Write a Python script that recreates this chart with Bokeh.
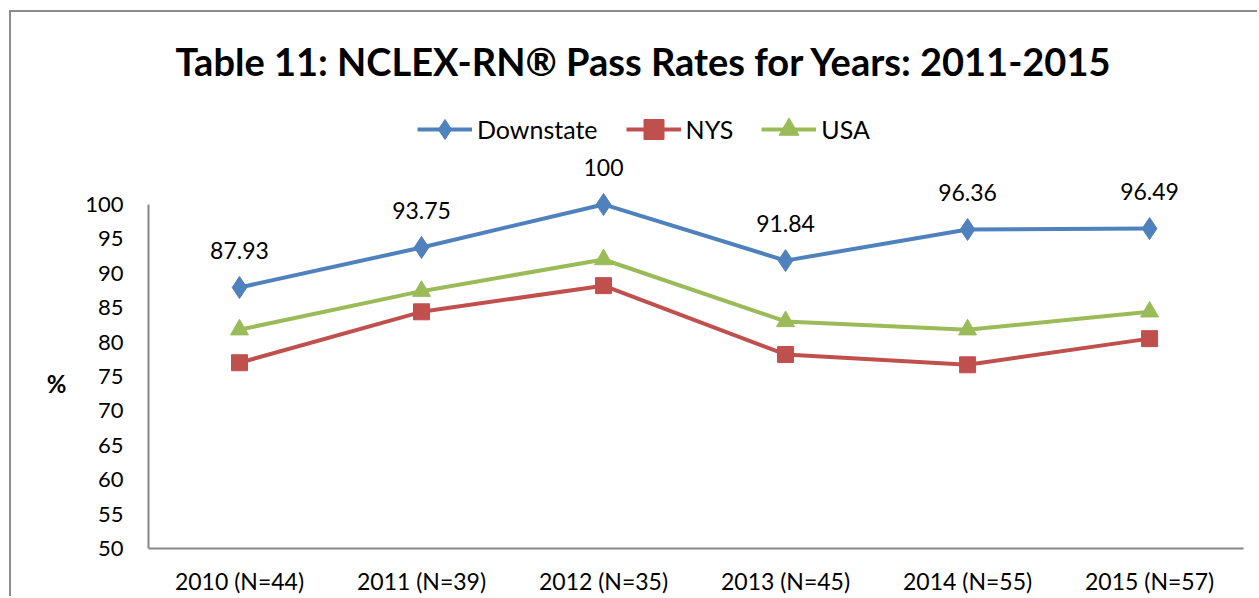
from bokeh.plotting import figure
from bokeh.models import (Range1d, FixedTicker, LabelSet, ColumnDataSource,
                          Legend, LegendItem, LinearAxis)
from bokeh.core.properties import value
from bokeh.embed import file_html
from bokeh.resources import INLINE

years = ["2010 (N=44)", "2011 (N=39)", "2012 (N=35)", "2013 (N=45)", "2014 (N=55)", "2015 (N=57)"]
downstate = [87.93, 93.75, 100, 91.84, 96.36, 96.49]
nys = [77.0, 84.4, 88.2, 78.2, 76.7, 80.5]
usa = [81.8, 87.4, 92.0, 83.0, 81.8, 84.4]
y_ticks = [50, 55, 60, 65, 70, 75, 80, 85, 90, 95, 100]
title_text = "Table 11: NCLEX-RN\u00ae Pass Rates for Years: 2011-2015"
y_label = "%"
y_label_pos = 74

FONT = "Lato"
xs = list(range(len(years)))

p = figure(width=1248, height=586, output_backend="svg", toolbar_location=None,
           x_range=Range1d(-0.5, 5.516), y_range=Range1d(50, 115.4),
           min_border_left=137, min_border_right=16, min_border_top=86,
           min_border_bottom=50, title=title_text)
p.styles = {"border-left": "2px solid #8c8c8c", "border-top": "2px solid #8c8c8c",
            "margin-left": "9px", "margin-top": "10px"}

p.title.text_font = FONT
p.title.text_font_size = "38px"
p.title.text_font_style = "bold"
p.title.align = "left"
p.title.offset = 27
p.title.standoff = 29
p.title.text_color = "black"

p.xgrid.visible = False
p.ygrid.visible = False
p.outline_line_color = None

for ax in (p.xaxis[0], p.yaxis[0]):
    ax.axis_line_color = "#868686"
    ax.axis_line_width = 2
    ax.major_tick_line_color = None
    ax.minor_tick_line_color = None
    ax.major_tick_out = 0
    ax.major_tick_in = 0
    ax.major_label_text_font = FONT
    ax.major_label_text_color = "black"

p.yaxis.ticker = FixedTicker(ticks=y_ticks)
p.yaxis.bounds = (50, 100)
p.yaxis.major_label_text_font_size = "22px"
p.yaxis.major_label_standoff = 25

p.xaxis.ticker = FixedTicker(ticks=xs)
p.xaxis.major_label_overrides = {i: years[i] for i in xs}
p.xaxis.major_label_text_font_size = "23px"
p.xaxis.major_label_standoff = 18

# outer axis carrying the horizontal "%" label
lab_axis = LinearAxis(ticker=FixedTicker(ticks=[y_label_pos]),
                      major_label_overrides={y_label_pos: y_label},
                      axis_line_color=None, major_tick_line_color=None,
                      minor_tick_line_color=None, major_tick_out=0, major_tick_in=0,
                      major_label_standoff=16, major_label_text_font=FONT,
                      major_label_text_font_size="24px",
                      major_label_text_font_style="bold",
                      major_label_text_color="black")
p.add_layout(lab_axis, "left")

series = [
    ("Downstate", downstate, "#4F81BD", "diamond", 22),
    ("NYS", nys, "#C0504D", "square", 16),
    ("USA", usa, "#9BBB59", "triangle", 18),
]

items = []
for name, vals, color, marker, size in series:
    src = ColumnDataSource(dict(x=xs, y=vals))
    l = p.line("x", "y", source=src, line_color=color, line_width=4)
    s = p.scatter("x", "y", source=src, marker=marker, size=size,
                  fill_color=color, line_color=color)
    items.append(LegendItem(label=name, renderers=[l, s]))

legend = Legend(items=items, orientation="horizontal", location=(269, 394),
                glyph_width=55, glyph_height=50, label_height=50,
                label_standoff=5, spacing=28, padding=0, margin=0,
                border_line_color=None, background_fill_alpha=0,
                label_text_font=FONT, label_text_font_size="25px",
                label_text_color="black")
p.add_layout(legend, "center")

lab_src = ColumnDataSource(dict(x=xs, y=downstate, t=[f"{v:g}" for v in downstate]))
p.add_layout(LabelSet(x="x", y="y", text="t", source=lab_src, y_offset=37,
                      text_align="center", text_baseline="middle",
                      text_font=value(FONT), text_font_size=value("23px"),
                      text_color="black"))

open("out.html", "w").write(file_html(p, INLINE))
